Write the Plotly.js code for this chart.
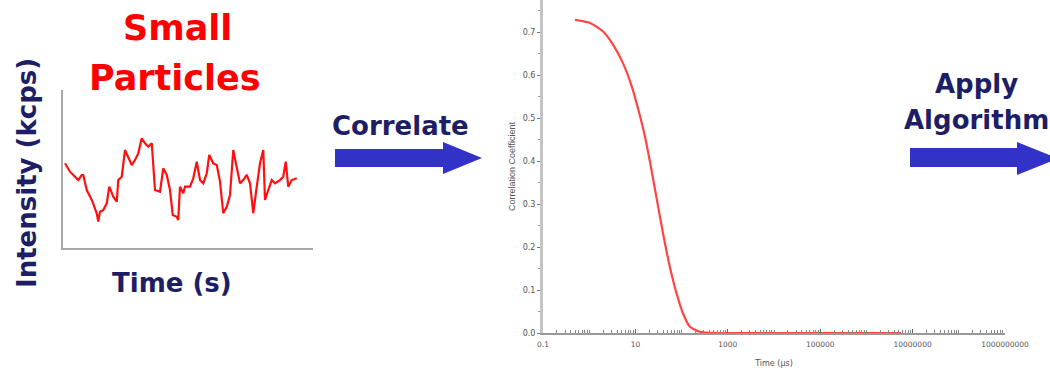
<!DOCTYPE html>
<html><head><meta charset="utf-8">
<script src="https://cdn.plot.ly/plotly-3.0.1.min.js"></script>
<style>html,body{margin:0;padding:0;background:#fff}#chart{width:1050px;height:373px}</style>
</head><body><div id="chart"></div>
<script>
// Left panel: intensity fluctuation trace (arbitrary units)
const intensityTime = [0.8,2.8,4.8,6.1,7.5,8.1,9.5,11.5,13.5,14.1,14.8,16.1,17.5,18.5,20.1,21.5,22.1,23.5,24.8,26.1,27.5,28.8,30.1,31.5,32.8,34.1,35.5,36.8,38.8,40.1,41.5,42.8,43.9,45.5,46.1,46.8,48.1,48.8,50.8,52.1,53.5,54.8,56.1,57.5,58.5,60.1,61.5,62.8,64.1,65.5,66.8,68.1,69.5,70.8,72.1,73.5,74.8,76.1,77.5,78.8,80.1,80.8,82.1,83.5,84.8,86.8,88.1,89.1,90.1,91.5,93.5];
const intensityValue = [53.6,48.3,45.1,43.0,46.2,46.2,36.7,30.4,22.0,16.7,23.0,24.0,28.3,38.8,32.5,29.3,43.0,45.1,62.0,57.8,52.5,55.7,59.9,69.4,66.3,64.1,66.3,36.7,35.6,50.4,46.2,36.7,20.9,19.8,17.7,38.8,34.6,38.8,38.8,44.1,54.6,43.0,40.9,47.3,58.9,53.6,52.5,42.0,22.0,26.1,33.5,62.0,51.5,40.9,43.0,46.2,40.9,22.0,38.8,53.6,62.0,30.4,36.7,43.0,40.9,43.0,45.1,54.6,38.8,43.0,44.1];

// Right panel: correlation curve (time in µs)
const corrTime = [0.49,1.04,2.0,3.3,5.4,8.2,11.4,16.0,20.5,28.6,39.6,55.3,77.2,107,150,246,565,1000,10000,100000,1000000,5600000];
const corrValue = [0.728,0.721,0.701,0.670,0.627,0.576,0.522,0.458,0.400,0.315,0.232,0.155,0.093,0.046,0.015,0.003,0.0,0,0,0,0,0];
const corrTickVals = [0.1,10,1000,100000,10000000,1000000000];
const corrTickText = ["0.1","10","1000","100000","10000000","1000000000"];

const W = 1050, H = 373;
const px = x => x / W, py = y => 1 - y / H;
const navy = '#1e1e66';
const blue = '#3232c8';
const bigFont = {family: 'DejaVu Sans', size: 26, color: navy, weight: 'bold'};
const redFont = {family: 'DejaVu Sans', size: 35, color: '#ff0000', weight: 'bold'};
const smallFont = {family: 'DejaVu Sans', size: 8, color: '#555'};

function arrowPath(x0, xh, xt, yb0, yb1, yh0, yh1) {
  const ym = (yh0 + yh1) / 2;
  return `M${px(x0)},${py(yb0)} L${px(xh)},${py(yb0)} L${px(xh)},${py(yh0)} L${px(xt)},${py(ym)} L${px(xh)},${py(yh1)} L${px(xh)},${py(yb1)} L${px(x0)},${py(yb1)} Z`;
}

const data = [
  {x: intensityTime, y: intensityValue, xaxis: 'x', yaxis: 'y', type: 'scatter', mode: 'lines',
   line: {color: '#ff1010', width: 2.2}, hoverinfo: 'skip'},
  {x: corrTime, y: corrValue, xaxis: 'x2', yaxis: 'y2', type: 'scatter', mode: 'lines',
   line: {color: '#ff4444', width: 2.2, shape: 'spline', smoothing: 0.6}, hoverinfo: 'skip'}
];

const layout = {
  width: W, height: H, margin: {l: 0, r: 0, t: 0, b: 0},
  paper_bgcolor: '#fff', plot_bgcolor: 'rgba(0,0,0,0)', showlegend: false,
  xaxis: {domain: [px(63), px(313)], range: [0, 100], showgrid: false, zeroline: false,
    showline: true, linecolor: '#a8a8a8', linewidth: 2, showticklabels: false, ticks: '', anchor: 'y'},
  yaxis: {domain: [py(248), py(90)], range: [0, 100], showgrid: false, zeroline: false,
    showline: true, linecolor: '#a8a8a8', linewidth: 2, showticklabels: false, ticks: '', anchor: 'x'},
  xaxis2: {type: 'log', domain: [px(543), px(1005)], range: [-1, 9], anchor: 'y2',
    showgrid: false, zeroline: false, showline: true, linecolor: '#9a9a9a', linewidth: 2,
    tickmode: 'array', tickvals: corrTickVals, ticktext: corrTickText,
    ticks: 'inside', ticklen: 4, tickcolor: '#666', tickwidth: 1, ticklabelstandoff: 3,
    minor: {dtick: 'D1', ticks: 'inside', ticklen: 3, tickcolor: '#888'},
    tickfont: {family: 'DejaVu Sans', size: 7.5, color: '#555'},
    title: {text: 'Time (µs)', font: smallFont, standoff: 12}},
  yaxis2: {domain: [py(333), 1], range: [0, 333 / 430], anchor: 'x2',
    showgrid: false, zeroline: false, showline: true, linecolor: '#c4c4c4', linewidth: 3,
    tickmode: 'linear', tick0: 0, dtick: 0.1, tickformat: '.1f',
    ticks: 'outside', ticklen: 3, tickcolor: '#777',
    minor: {dtick: 0.05, ticks: 'outside', ticklen: 2, tickcolor: '#999'},
    tickfont: smallFont,
    title: {text: 'Correlation Coefficient', font: {family: 'Liberation Sans', size: 9, color: '#555'}, standoff: 6}},
  annotations: [
    {text: 'Small', xref: 'paper', yref: 'paper', x: px(177), y: py(28), xanchor: 'center', yanchor: 'middle', showarrow: false, font: redFont},
    {text: 'Particles', xref: 'paper', yref: 'paper', x: px(175), y: py(78), xanchor: 'center', yanchor: 'middle', showarrow: false, font: redFont},
    {text: 'Intensity (kcps)', xref: 'paper', yref: 'paper', x: px(27), y: py(173), xanchor: 'center', yanchor: 'middle', textangle: -90, showarrow: false, font: bigFont},
    {text: 'Time (s)', xref: 'paper', yref: 'paper', x: px(172), y: py(283), xanchor: 'center', yanchor: 'middle', showarrow: false, font: bigFont},
    {text: 'Correlate', xref: 'paper', yref: 'paper', x: px(400), y: py(126), xanchor: 'center', yanchor: 'middle', showarrow: false, font: bigFont},
    {text: 'Apply', xref: 'paper', yref: 'paper', x: px(976), y: py(84), xanchor: 'center', yanchor: 'middle', showarrow: false, font: bigFont},
    {text: 'Algorithm', xref: 'paper', yref: 'paper', x: px(902), y: py(120), xanchor: 'left', yanchor: 'middle', showarrow: false, font: bigFont}
  ],
  shapes: [
    {type: 'path', xref: 'paper', yref: 'paper', path: arrowPath(335, 443, 482, 149, 167, 142, 174), fillcolor: blue, line: {width: 0}},
    {type: 'path', xref: 'paper', yref: 'paper', path: arrowPath(910, 1017, 1058, 148, 167, 142, 175), fillcolor: blue, line: {width: 0}}
  ]
};

Plotly.newPlot('chart', data, layout, {staticPlot: true, displayModeBar: false});
</script>
</body></html>
